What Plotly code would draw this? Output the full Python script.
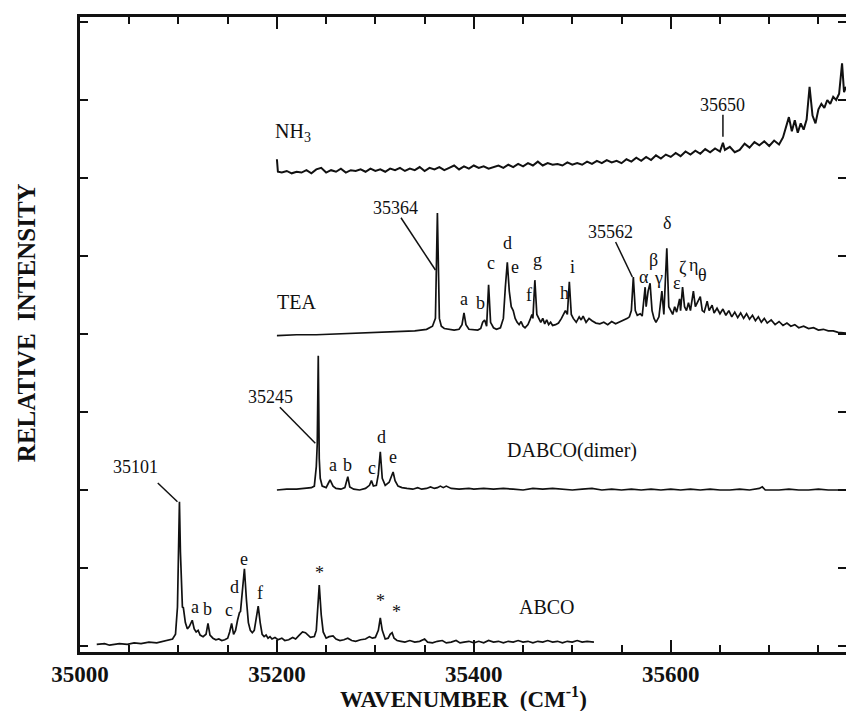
import plotly.graph_objects as go

# ---------------- data (wavenumber cm-1, relative intensity in tick units) ----------------
abco_x = [35017, 35025, 35030, 35040, 35048, 35055, 35062, 35070, 35078, 35085, 35090, 35094, 35097, 35099,
          35101, 35102, 35104, 35105, 35107, 35109, 35111, 35114, 35116, 35118, 35120, 35122, 35125, 35128,
          35130, 35132, 35135, 35138, 35141, 35144, 35147, 35150, 35152, 35154, 35156, 35158, 35160, 35162,
          35163, 35165, 35167, 35169, 35171, 35173, 35175, 35177, 35179, 35181, 35183, 35185, 35187, 35189,
          35191, 35193, 35195, 35198, 35201, 35205, 35208, 35212, 35216, 35219, 35222, 35226, 35229, 35231,
          35234, 35238, 35240, 35243, 35245, 35247, 35250, 35253, 35257, 35260, 35264, 35268, 35272, 35276,
          35280, 35285, 35290, 35294, 35297, 35300, 35303, 35305, 35307, 35310, 35313, 35315, 35317, 35319,
          35322, 35326, 35330, 35335, 35340, 35345, 35350, 35353, 35358, 35363, 35368, 35372, 35377, 35382,
          35386, 35390, 35395, 35400, 35405, 35410, 35415, 35420, 35425, 35430, 35435, 35440, 35445, 35450,
          35455, 35460, 35465, 35470, 35475, 35480, 35485, 35490, 35495, 35500, 35505, 35510, 35515, 35522]
abco_y = [0.02, 0.03, 0.01, 0.03, 0.02, 0.04, 0.03, 0.05, 0.04, 0.06, 0.07, 0.09, 0.15, 0.50,
          1.85, 1.20, 0.50, 0.49, 0.30, 0.22, 0.25, 0.33, 0.22, 0.18, 0.20, 0.14, 0.12, 0.15,
          0.29, 0.14, 0.10, 0.08, 0.09, 0.07, 0.08, 0.10, 0.18, 0.29, 0.15, 0.20, 0.33, 0.43,
          0.44, 0.70, 0.99, 0.60, 0.30, 0.20, 0.17, 0.20, 0.35, 0.51, 0.30, 0.15, 0.12, 0.14,
          0.10, 0.12, 0.09, 0.11, 0.08, 0.10, 0.07, 0.08, 0.11, 0.09, 0.13, 0.18, 0.17, 0.14,
          0.11, 0.12, 0.20, 0.78, 0.40, 0.18, 0.10, 0.12, 0.13, 0.09, 0.07, 0.08, 0.10, 0.07,
          0.06, 0.08, 0.09, 0.12, 0.10, 0.11, 0.20, 0.36, 0.20, 0.09, 0.10, 0.15, 0.17, 0.10,
          0.07, 0.06, 0.05, 0.07, 0.05, 0.06, 0.09, 0.05, 0.04, 0.06, 0.07, 0.04, 0.05, 0.07,
          0.04, 0.05, 0.06, 0.04, 0.06, 0.04, 0.07, 0.05, 0.06, 0.04, 0.06, 0.05, 0.07, 0.05,
          0.06, 0.04, 0.06, 0.05, 0.07, 0.05, 0.06, 0.04, 0.06, 0.05, 0.07, 0.05, 0.06, 0.05]

dabco_x = [35200, 35210, 35220, 35228, 35235, 35238, 35240, 35241, 35242, 35243, 35244, 35246, 35250, 35252,
           35254, 35257, 35260, 35265, 35269, 35272, 35274, 35278, 35284, 35290, 35294, 35296, 35298, 35301,
           35303, 35305, 35307, 35310, 35314, 35318, 35320, 35323, 35327, 35332, 35338, 35343, 35347, 35352,
           35356, 35360, 35363, 35366, 35369, 35372, 35377, 35385, 35395, 35400, 35410, 35420, 35430, 35440,
           35450, 35460, 35470, 35480, 35490, 35500, 35510, 35520, 35530, 35540, 35550, 35560, 35570, 35580,
           35590, 35600, 35610, 35620, 35630, 35640, 35650, 35660, 35670, 35680, 35690, 35693, 35696, 35710,
           35720, 35730, 35740, 35750, 35760, 35778]
dabco_y = [2.00, 2.01, 2.01, 2.02, 2.03, 2.05, 2.30, 2.60, 3.72, 2.40, 2.15, 2.05, 2.03, 2.08,
           2.13, 2.05, 2.02, 2.01, 2.03, 2.17, 2.04, 2.01, 2.00, 2.02, 2.06, 2.12, 2.05, 2.06,
           2.20, 2.49, 2.15, 2.06, 2.10, 2.23, 2.12, 2.05, 2.03, 2.02, 2.01, 2.03, 2.01, 2.02,
           2.04, 2.02, 2.03, 2.05, 2.03, 2.05, 2.02, 2.01, 2.02, 2.01, 2.02, 2.01, 2.02, 2.01,
           2.00, 2.02, 2.01, 2.02, 2.01, 2.00, 2.01, 2.02, 2.00, 2.01, 2.00, 2.01, 2.00, 2.01,
           2.00, 2.01, 2.00, 2.01, 2.00, 2.01, 2.00, 2.00, 2.01, 2.00, 2.02, 2.04, 2.00, 2.00,
           2.01, 2.00, 2.00, 2.01, 2.00, 2.00]

tea_x = [35200, 35220, 35240, 35260, 35280, 35300, 35320, 35340, 35352, 35358, 35361, 35363, 35365, 35367,
         35370, 35375, 35380, 35385, 35388, 35390, 35392, 35395, 35400, 35404, 35407, 35409, 35411, 35413,
         35415, 35417, 35420, 35423, 35427, 35430, 35432, 35434, 35436, 35438, 35440, 35442, 35444, 35446,
         35448, 35450, 35452, 35455, 35457, 35459, 35460, 35462, 35464, 35466, 35468, 35470, 35472, 35474,
         35476, 35478, 35480, 35483, 35486, 35489, 35491, 35493, 35495, 35497, 35499, 35501, 35504, 35507,
         35509, 35511, 35514, 35517, 35520, 35524, 35528, 35532, 35536, 35540, 35544, 35548, 35552, 35556,
         35558, 35560, 35562, 35564, 35566, 35569, 35571, 35574, 35575, 35577, 35579, 35581, 35583, 35585,
         35588, 35591, 35593, 35596, 35598, 35600, 35602, 35604, 35606, 35609, 35610, 35612, 35614, 35616,
         35618, 35620, 35623, 35625, 35627, 35630, 35632, 35634, 35637, 35639, 35642, 35644, 35647, 35650,
         35653, 35656, 35659, 35662, 35665, 35668, 35671, 35674, 35677, 35680, 35683, 35686, 35689, 35692,
         35695, 35698, 35702, 35706, 35710, 35714, 35718, 35722, 35726, 35730, 35735, 35740, 35745, 35750,
         35755, 35760, 35765, 35770, 35778]
tea_y = [3.98, 3.99, 3.99, 4.00, 4.01, 4.02, 4.03, 4.04, 4.06, 4.10, 4.20, 5.55, 4.20, 4.10,
         4.07, 4.06, 4.05, 4.06, 4.12, 4.27, 4.12, 4.06, 4.05, 4.05, 4.07, 4.15, 4.18, 4.10,
         4.63, 4.15, 4.08, 4.06, 4.08, 4.20, 4.60, 4.92, 4.55, 4.35, 4.30, 4.20, 4.15, 4.12,
         4.16, 4.10, 4.08, 4.12, 4.18, 4.25, 4.20, 4.69, 4.25, 4.20, 4.15, 4.20, 4.13, 4.18,
         4.12, 4.15, 4.11, 4.12, 4.14, 4.20, 4.25, 4.30, 4.25, 4.67, 4.25, 4.20, 4.15, 4.22,
         4.18, 4.23, 4.15, 4.20, 4.17, 4.14, 4.13, 4.15, 4.12, 4.16, 4.13, 4.15, 4.18, 4.20,
         4.22, 4.30, 4.73, 4.30, 4.24, 4.26, 4.23, 4.60, 4.35, 4.55, 4.65, 4.30, 4.20, 4.15,
         4.22, 4.55, 4.25, 5.10, 4.35, 4.30, 4.25, 4.35, 4.28, 4.45, 4.30, 4.60, 4.35, 4.30,
         4.40, 4.30, 4.55, 4.35, 4.40, 4.48, 4.30, 4.28, 4.42, 4.30, 4.37, 4.27, 4.33, 4.26,
         4.32, 4.24, 4.30, 4.22, 4.28, 4.21, 4.27, 4.20, 4.26, 4.19, 4.24, 4.17, 4.22, 4.15,
         4.20, 4.14, 4.18, 4.12, 4.16, 4.11, 4.14, 4.10, 4.12, 4.08, 4.10, 4.07, 4.08, 4.05,
         4.06, 4.04, 4.04, 4.02, 4.01]

nh3_x = [35200, 35201, 35205, 35210, 35215, 35220, 35225, 35230, 35235, 35240, 35245, 35250, 35255, 35260,
         35265, 35270, 35275, 35280, 35285, 35290, 35295, 35300, 35305, 35310, 35315, 35320, 35325, 35330,
         35335, 35340, 35345, 35350, 35355, 35360, 35365, 35370, 35375, 35380, 35385, 35390, 35395, 35400,
         35405, 35410, 35415, 35420, 35425, 35430, 35435, 35440, 35445, 35450, 35455, 35460, 35465, 35470,
         35475, 35480, 35485, 35490, 35495, 35500, 35505, 35510, 35515, 35520, 35525, 35530, 35535, 35540,
         35545, 35550, 35555, 35560, 35565, 35570, 35575, 35580, 35585, 35590, 35595, 35600, 35605, 35610,
         35615, 35620, 35625, 35630, 35635, 35640, 35645, 35650, 35653, 35655, 35660, 35665, 35670, 35675,
         35680, 35685, 35690, 35695, 35700, 35705, 35710, 35714, 35717, 35720, 35723, 35726, 35729, 35732,
         35735, 35738, 35741, 35744, 35747, 35750, 35753, 35756, 35759, 35762, 35765, 35768, 35771, 35774,
         35776, 35778]
nh3_y = [6.24, 6.08, 6.07, 6.09, 6.06, 6.08, 6.07, 6.10, 6.06, 6.11, 6.13, 6.07, 6.10, 6.08,
         6.12, 6.07, 6.10, 6.09, 6.11, 6.08, 6.12, 6.09, 6.11, 6.08, 6.12, 6.10, 6.13, 6.09,
         6.12, 6.10, 6.14, 6.09, 6.13, 6.11, 6.14, 6.10, 6.13, 6.16, 6.11, 6.15, 6.12, 6.16,
         6.13, 6.15, 6.12, 6.14, 6.16, 6.13, 6.17, 6.14, 6.18, 6.15, 6.19, 6.16, 6.21, 6.16,
         6.19, 6.17, 6.18, 6.16, 6.20, 6.17, 6.19, 6.17, 6.21, 6.18, 6.22, 6.19, 6.23, 6.20,
         6.22, 6.19, 6.24, 6.21, 6.26, 6.22, 6.27, 6.23, 6.29, 6.25, 6.30, 6.27, 6.32, 6.28,
         6.34, 6.30, 6.35, 6.31, 6.37, 6.33, 6.38, 6.34, 6.45, 6.36, 6.40, 6.33, 6.36, 6.44,
         6.39, 6.46, 6.42, 6.47, 6.41, 6.48, 6.43, 6.52, 6.66, 6.78, 6.60, 6.74, 6.58, 6.70,
         6.62, 6.75, 7.17, 6.80, 6.70, 6.88, 6.95, 6.90, 7.00, 6.95, 7.04, 7.00, 7.08, 7.47,
         7.10, 7.17]

x_tick_vals = [35000, 35200, 35400, 35600]
x_tick_text = ["35000", "35200", "35400", "35600"]
y_tick_vals = [0, 1, 2, 3, 4, 5, 6, 7, 8]

# series names
series_labels = ["ABCO", "DABCO(dimer)", "TEA", "NH<sub>3</sub>"]

# peak labels: (text, x, y)
abco_marks = [("a", 35117, 0.50), ("b", 35130, 0.47), ("c", 35151, 0.46), ("d", 35157, 0.76),
              ("e", 35167, 1.12), ("f", 35183, 0.68), ("*", 35243, 0.94), ("*", 35305, 0.58),
              ("*", 35321, 0.44)]
dabco_marks = [("a", 35257, 2.32), ("b", 35272, 2.32), ("c", 35297, 2.28), ("d", 35306, 2.68),
               ("e", 35318, 2.42)]
tea_marks = [("a", 35390, 4.45), ("b", 35407, 4.40), ("c", 35417, 4.91), ("d", 35434, 5.17),
             ("e", 35442, 4.86), ("f", 35456, 4.50), ("g", 35465, 4.95), ("h", 35492, 4.53),
             ("i", 35500, 4.86), ("α", 35573, 4.73), ("β", 35582, 4.95), ("γ", 35588, 4.72),
             ("δ", 35596, 5.42), ("ε", 35606, 4.65), ("ζ", 35612, 4.85), ("η", 35623, 4.88),
             ("θ", 35632, 4.76)]
# numbered callouts: (text, text_x, text_y, line_x0, line_y0, line_x1, line_y1)
callouts = [("35101", 35056, 2.29, 35079, 2.09, 35099, 1.85),
            ("35245", 35193, 3.19, 35203, 3.06, 35239, 2.60),
            ("35364", 35320, 5.62, 35326, 5.49, 35361, 4.82),
            ("35562", 35539, 5.31, 35544, 5.18, 35561, 4.73),
            ("35650", 35653, 6.94, 35653, 6.81, 35653, 6.53)]
# series name positions (left anchored)
label_pos = [(35444, 0.50), (35432, 2.51), (35198, 4.41), (35196, 6.58)]

# ---------------- figure ----------------
SERIF = "Liberation Serif"
INK = "#111111"

fig = go.Figure()
for xs, ys, w in [(abco_x, abco_y, 1.7), (dabco_x, dabco_y, 1.7), (tea_x, tea_y, 1.7), (nh3_x, nh3_y, 2.0)]:
    fig.add_trace(go.Scatter(x=xs, y=ys, mode="lines", line=dict(color=INK, width=w),
                             showlegend=False, hoverinfo="skip"))

ann = []
for marks in (abco_marks, dabco_marks, tea_marks):
    for t, x, y in marks:
        ann.append(dict(x=x, y=y, text=t, showarrow=False, xref="x", yref="y",
                        xanchor="center", yanchor="middle",
                        font=dict(family=SERIF, size=18, color=INK)))
shapes = []
for t, tx, ty, x0, y0, x1, y1 in callouts:
    ann.append(dict(x=tx, y=ty, text=t, showarrow=False, xref="x", yref="y",
                    xanchor="center", yanchor="middle",
                    font=dict(family=SERIF, size=18, color=INK)))
    shapes.append(dict(type="line", xref="x", yref="y", x0=x0, y0=y0, x1=x1, y1=y1,
                       line=dict(color=INK, width=1.5)))
for name, (x, y) in zip(series_labels, label_pos):
    ann.append(dict(x=x, y=y, text=name, showarrow=False, xref="x", yref="y",
                    xanchor="left", yanchor="middle",
                    font=dict(family=SERIF, size=20, color=INK)))

ann.append(dict(x=-0.0704, y=0.518, xref="paper", yref="paper", text="RELATIVE  INTENSITY",
                textangle=-90, showarrow=False, xanchor="center", yanchor="middle",
                font=dict(family=SERIF, size=25, color=INK, weight="bold")))
ann.append(dict(x=0.5, y=-0.0715, xref="paper", yref="paper", xanchor="center", yanchor="middle",
                text="WAVENUMBER  (CM<sup>-1</sup>)", showarrow=False,
                font=dict(family=SERIF, size=23, color=INK, weight="bold")))

fig.update_layout(
    width=846, height=711,
    margin=dict(l=80, r=0, t=17, b=59),
    paper_bgcolor="white", plot_bgcolor="white",
    annotations=ann, shapes=shapes,
    xaxis=dict(range=[35000, 35778], tickvals=x_tick_vals, ticktext=x_tick_text,
               ticks="inside", ticklen=12, tickwidth=2, tickcolor=INK,
               minor=dict(dtick=50, tick0=35000, ticks="inside", ticklen=7, tickwidth=1.5, tickcolor=INK),
               showline=True, linewidth=2.5, linecolor=INK, mirror="allticks",
               showgrid=False, zeroline=False, automargin=False,
               tickfont=dict(family=SERIF, size=23, color=INK, weight="bold")),
    yaxis=dict(range=[-0.077, 8.064], tickvals=y_tick_vals, showticklabels=False,
               ticks="inside", ticklen=8, tickwidth=2, tickcolor=INK,
               showline=True, linewidth=2.5, linecolor=INK, mirror="allticks",
               showgrid=False, zeroline=False, automargin=False),
)

fig.write_html("out.html", config={"displayModeBar": False},
               post_script="document.body.style.margin='0';document.body.style.overflow='hidden';")
